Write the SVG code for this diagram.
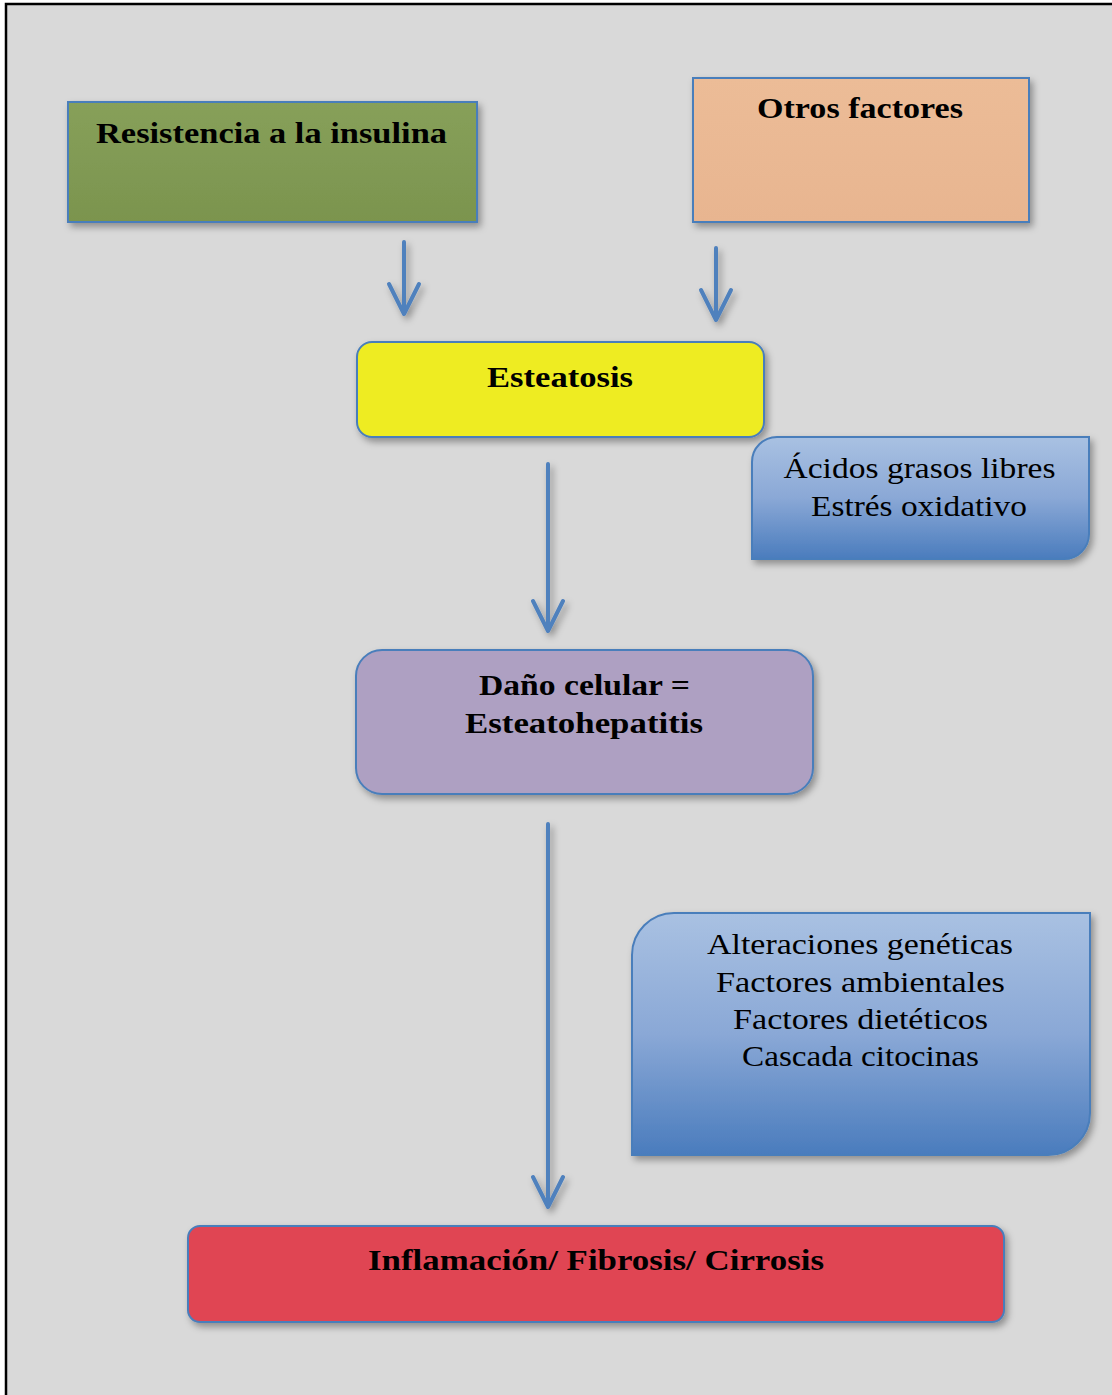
<svg xmlns="http://www.w3.org/2000/svg" width="1112" height="1395" viewBox="0 0 1112 1395">
  <style>
    .box { stroke: #4a7ebb; stroke-width: 2; }
    .b { font-family: "Liberation Serif", "DejaVu Serif", serif; font-weight: bold; font-size: 30px; fill: #000; }
    .r { font-family: "Liberation Serif", "DejaVu Serif", serif; font-size: 30px; fill: #000; }
    .conn { stroke: #4f81bd; stroke-width: 4; fill: none; stroke-linecap: round; stroke-linejoin: round; }
  </style>
  <defs>
    <filter id="sh" x="-10%" y="-20%" width="125%" height="150%">
      <feDropShadow dx="3" dy="4" stdDeviation="3.5" flood-color="#000" flood-opacity="0.35"/>
    </filter>
    <linearGradient id="gGreen" x1="0" y1="0" x2="0" y2="1">
      <stop offset="0" stop-color="#87a05a"/>
      <stop offset="1" stop-color="#7b944e"/>
    </linearGradient>
    <linearGradient id="gOrange" x1="0" y1="0" x2="0" y2="1">
      <stop offset="0" stop-color="#ecbc97"/>
      <stop offset="1" stop-color="#e8b590"/>
    </linearGradient>
    <linearGradient id="gBlue" x1="0" y1="0" x2="0" y2="1">
      <stop offset="0" stop-color="#a9c1e2"/>
      <stop offset="0.5" stop-color="#8aa8d6"/>
      <stop offset="1" stop-color="#4a7cbd"/>
    </linearGradient>
  </defs>

  <rect x="0" y="0" width="1112" height="1395" fill="#ffffff"/>
  <rect x="6" y="4" width="1120" height="1400" fill="#d9d9d9" stroke="#000" stroke-width="2.5"/>

  <g id="connectors">
    <g filter="url(#sh)">
      <path class="conn" d="M404 242 V314 M389 284 L404 314 L419 284"/>
      <path class="conn" d="M716 248 V320 M701 290 L716 320 L731 290"/>
      <path class="conn" d="M548 464 V631 M533 601 L548 631 L563 601"/>
      <path class="conn" d="M548 824 V1207 M533 1177 L548 1207 L563 1177"/>
    </g>
  </g>

  <g id="resistencia">
    <rect class="box" x="68" y="102" width="409" height="120" fill="url(#gGreen)" filter="url(#sh)"/>
    <text class="b" x="271.5" y="143" text-anchor="middle" textLength="351" lengthAdjust="spacingAndGlyphs">Resistencia a la insulina</text>
  </g>

  <g id="otros">
    <rect class="box" x="693" y="78" width="336" height="144" fill="url(#gOrange)" filter="url(#sh)"/>
    <text class="b" x="860" y="118" text-anchor="middle" textLength="206" lengthAdjust="spacingAndGlyphs">Otros factores</text>
  </g>

  <g id="esteatosis">
    <rect class="box" x="357" y="342" width="407" height="95" rx="15" fill="#eeec22" filter="url(#sh)"/>
    <text class="b" x="560" y="387" text-anchor="middle" textLength="146" lengthAdjust="spacingAndGlyphs">Esteatosis</text>
  </g>

  <g id="acidos">
    <path class="box" d="M777 437 H1089 V534 A25 25 0 0 1 1064 559 H752 V462 A25 25 0 0 1 777 437 Z" fill="url(#gBlue)" filter="url(#sh)"/>
    <text class="r" x="919.5" y="478" text-anchor="middle" textLength="272" lengthAdjust="spacingAndGlyphs">Ácidos grasos libres</text>
    <text class="r" x="919" y="516" text-anchor="middle" textLength="216" lengthAdjust="spacingAndGlyphs">Estrés oxidativo</text>
  </g>

  <g id="dano">
    <rect class="box" x="356" y="650" width="457" height="144" rx="26" fill="#aea0c2" filter="url(#sh)"/>
    <text class="b" x="584.5" y="695" text-anchor="middle" textLength="211" lengthAdjust="spacingAndGlyphs">Daño celular =</text>
    <text class="b" x="584" y="733" text-anchor="middle" textLength="238" lengthAdjust="spacingAndGlyphs">Esteatohepatitis</text>
  </g>

  <g id="alteraciones">
    <path class="box" d="M674 913 H1090 V1113 A42 42 0 0 1 1048 1155 H632 V955 A42 42 0 0 1 674 913 Z" fill="url(#gBlue)" filter="url(#sh)"/>
    <text class="r" x="860" y="954" text-anchor="middle" textLength="306" lengthAdjust="spacingAndGlyphs">Alteraciones genéticas</text>
    <text class="r" x="860.5" y="992" text-anchor="middle" textLength="289" lengthAdjust="spacingAndGlyphs">Factores ambientales</text>
    <text class="r" x="860.5" y="1029" text-anchor="middle" textLength="255" lengthAdjust="spacingAndGlyphs">Factores dietéticos</text>
    <text class="r" x="860.5" y="1066" text-anchor="middle" textLength="237" lengthAdjust="spacingAndGlyphs">Cascada citocinas</text>
  </g>

  <g id="inflamacion">
    <rect class="box" x="188" y="1226" width="816" height="96" rx="12" fill="#e04552" filter="url(#sh)"/>
    <text class="b" x="596" y="1270" text-anchor="middle" textLength="456" lengthAdjust="spacingAndGlyphs">Inflamación/ Fibrosis/ Cirrosis</text>
  </g>
</svg>
